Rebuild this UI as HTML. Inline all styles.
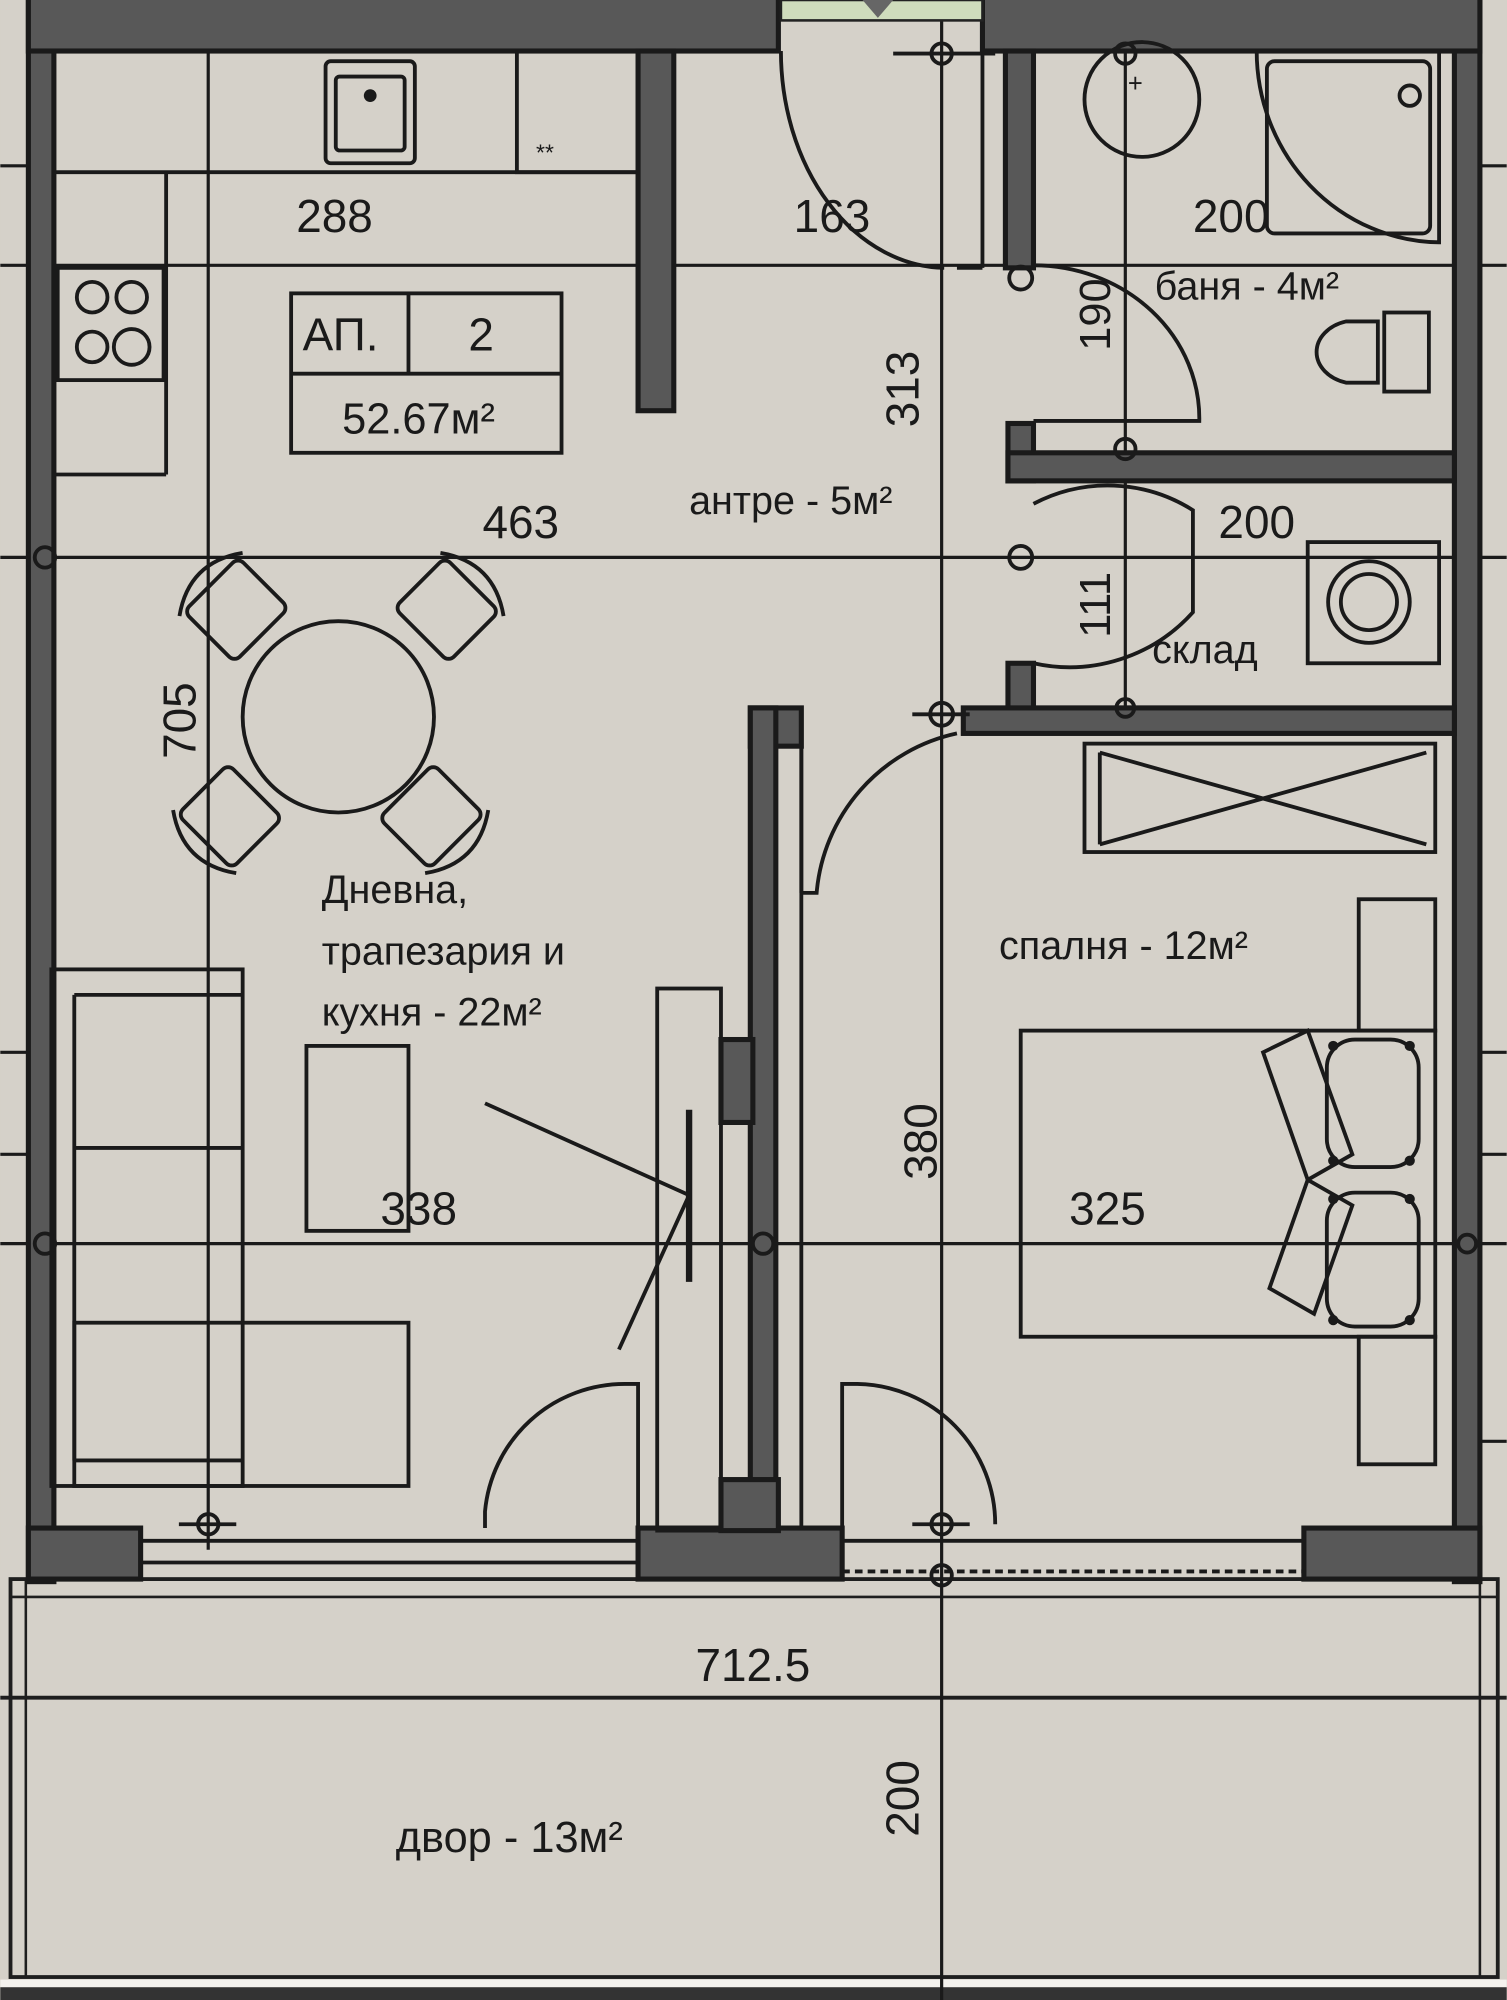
<!DOCTYPE html>
<html><head><meta charset="utf-8"><style>
html,body{margin:0;padding:0;background:#d5d1c9;}
svg{display:block}
text{font-family:"Liberation Sans",sans-serif;fill:#1a1a1a}
</style></head><body>
<svg width="1507" height="2000" viewBox="0 0 1181 1568" xmlns="http://www.w3.org/2000/svg">
<rect x="0" y="0" width="1181" height="1568" fill="#d5d1c9"/>

<!-- balcony -->
<g stroke="#1e1e1e" fill="none">
<rect x="8" y="1238" width="1166" height="312" stroke-width="3"/>
<line x1="20" y1="1238" x2="20" y2="1550" stroke-width="2"/>
<line x1="1160" y1="1238" x2="1160" y2="1550" stroke-width="2"/>
<line x1="8" y1="1252" x2="1174" y2="1252" stroke-width="2"/>
<line x1="0" y1="1331" x2="1181" y2="1331" stroke-width="3"/>
</g>
<rect x="0" y="1552" width="1181" height="6" fill="#f4f2ee"/>
<rect x="0" y="1558" width="1181" height="10" fill="#333"/>

<!-- grid lines -->
<g stroke="#1a1a1a" stroke-width="2.5" fill="none">
<line x1="0" y1="437" x2="1181" y2="437"/>
<line x1="0" y1="975" x2="1181" y2="975"/>
<line x1="0" y1="208" x2="1181" y2="208"/>
<line x1="163" y1="0" x2="163" y2="1215"/>
<line x1="738" y1="0" x2="738" y2="1568"/>
<line x1="882" y1="0" x2="882" y2="565"/>
<line x1="0" y1="130" x2="22" y2="130"/>
<line x1="0" y1="825" x2="22" y2="825"/>
<line x1="0" y1="905" x2="22" y2="905"/>
<line x1="1160" y1="130" x2="1181" y2="130"/>
<line x1="1160" y1="825" x2="1181" y2="825"/>
<line x1="1160" y1="905" x2="1181" y2="905"/>
<line x1="1160" y1="1130" x2="1181" y2="1130"/>
</g>

<!-- walls -->
<g fill="#585858" stroke="#1a1a1a" stroke-width="4">
<rect x="22" y="-5" width="20" height="1245"/>
<rect x="1140" y="-5" width="20" height="1245"/>
<rect x="22" y="-5" width="588" height="45"/>
<rect x="770" y="-5" width="390" height="45"/>
<rect x="500" y="40" width="28" height="282"/>
<rect x="788" y="40" width="22" height="170"/>
<rect x="790" y="332" width="20" height="45"/>
<rect x="790" y="355" width="350" height="22"/>
<rect x="790" y="520" width="20" height="40"/>
<rect x="755" y="555" width="385" height="20"/>
<rect x="588" y="555" width="40" height="30"/>
<rect x="588" y="555" width="20" height="630"/>
<rect x="565" y="815" width="25" height="65"/>
<rect x="22" y="1198" width="88" height="40"/>
<rect x="500" y="1198" width="160" height="40"/>
<rect x="1022" y="1198" width="138" height="40"/>
<rect x="565" y="1160" width="45" height="40"/>
</g>
<g stroke="#1a1a1a" stroke-width="3" fill="none">
<line x1="110" y1="1208" x2="500" y2="1208"/>
<line x1="110" y1="1225" x2="500" y2="1225"/>
<line x1="660" y1="1208" x2="1022" y2="1208"/>
<line x1="660" y1="1232" x2="1022" y2="1232" stroke-dasharray="6 4"/>
<line x1="628" y1="585" x2="628" y2="1198"/>
<line x1="770" y1="40" x2="770" y2="210"/>
<line x1="750" y1="210" x2="770" y2="210"/>
</g>
<!-- door opening top -->
<rect x="612" y="0" width="158" height="16" fill="#cfdcbc" stroke="#222" stroke-width="2"/>
<polygon points="676,0 700,0 688,14" fill="#666"/>

<!-- grid circles -->
<g fill="none" stroke="#1a1a1a" stroke-width="3">
<circle cx="738" cy="42" r="8"/><circle cx="882" cy="42" r="8"/>
<circle cx="800" cy="218" r="9"/><circle cx="882" cy="352" r="8"/>
<circle cx="800" cy="437" r="9"/><circle cx="35" cy="437" r="8"/>
<circle cx="738" cy="560" r="9"/><circle cx="882" cy="555" r="7"/>
<circle cx="598" cy="975" r="8"/><circle cx="35" cy="975" r="8"/>
<circle cx="163" cy="1195" r="8"/><circle cx="738" cy="1195" r="8"/>
<circle cx="738" cy="1235" r="8"/><circle cx="1150" cy="975" r="7"/>
<line x1="700" y1="42" x2="780" y2="42"/>
<line x1="140" y1="1195" x2="185" y2="1195"/>
<line x1="715" y1="1195" x2="760" y2="1195"/>
<line x1="715" y1="560" x2="760" y2="560"/>
</g>

<!-- kitchen -->
<g fill="none" stroke="#1a1a1a" stroke-width="3">
<line x1="42" y1="135" x2="500" y2="135"/>
<line x1="130" y1="135" x2="130" y2="372"/>
<line x1="42" y1="372" x2="130" y2="372"/>
<rect x="255" y="48" width="70" height="80" rx="4"/>
<rect x="263" y="60" width="54" height="58" rx="3"/>
<rect x="405" y="40" width="95" height="95"/>
<rect x="45" y="210" width="83" height="88"/>
<circle cx="72" cy="233" r="12"/><circle cx="103" cy="233" r="12"/>
<circle cx="72" cy="272" r="12"/><circle cx="103" cy="272" r="14"/>
<rect x="228" y="230" width="212" height="125"/>
<line x1="228" y1="293" x2="440" y2="293"/>
<line x1="320" y1="230" x2="320" y2="293"/>
</g>
<circle cx="290" cy="75" r="5" fill="#1a1a1a"/>
<text x="420" y="126" font-size="18">**</text>

<!-- dining -->
<g fill="none" stroke="#1a1a1a" stroke-width="3">
<circle cx="265" cy="562" r="75"/>
<g transform="rotate(-45 185 478)"><rect x="155" y="450" width="60" height="56" rx="6"/><path d="M150 450 Q185 425 220 450" /></g>
<g transform="rotate(45 350 478)"><rect x="320" y="450" width="60" height="56" rx="6"/><path d="M315 450 Q350 425 385 450" /></g>
<g transform="rotate(-135 180 640)"><rect x="150" y="612" width="60" height="56" rx="6"/><path d="M145 612 Q180 587 215 612" /></g>
<g transform="rotate(135 338 640)"><rect x="308" y="612" width="60" height="56" rx="6"/><path d="M303 612 Q338 587 373 612" /></g>
</g>

<!-- living -->
<g fill="none" stroke="#1a1a1a" stroke-width="3">
<rect x="40" y="760" width="150" height="405"/>
<line x1="58" y1="780" x2="190" y2="780"/>
<line x1="58" y1="780" x2="58" y2="1145"/>
<line x1="58" y1="900" x2="190" y2="900"/>
<rect x="58" y="1037" width="262" height="128"/>
<line x1="58" y1="1145" x2="190" y2="1145"/>
<rect x="240" y="820" width="80" height="145"/>
<rect x="515" y="775" width="50" height="425"/>
<line x1="540" y1="870" x2="540" y2="1005" stroke-width="5"/>
<line x1="380" y1="865" x2="540" y2="937"/>
<line x1="540" y1="937" x2="485" y2="1058"/>
<path d="M380 1198 L380 1185 A110 110 0 0 1 490 1085 L500 1085 L500 1198"/>
</g>

<!-- bedroom -->
<g fill="none" stroke="#1a1a1a" stroke-width="3">
<rect x="850" y="583" width="275" height="85"/>
<line x1="862" y1="590" x2="1118" y2="662"/><line x1="862" y1="662" x2="1118" y2="590"/>
<line x1="862" y1="590" x2="862" y2="662"/>
<rect x="1065" y="705" width="60" height="103"/>
<rect x="1065" y="1048" width="60" height="100"/>
<rect x="800" y="808" width="325" height="240"/>
<path d="M990 825 L1025 808 L1060 905 L1025 925 Z"/>
<path d="M995 1010 L1030 1030 L1060 945 L1025 925 Z"/>
<rect x="1040" y="815" width="72" height="100" rx="22"/>
<rect x="1040" y="935" width="72" height="105" rx="22"/>
<path d="M660 1198 L660 1085 L672 1085 A110 110 0 0 1 780 1195"/>
<path d="M628 700 L640 700 A140 140 0 0 1 750 575"/>
<line x1="628" y1="700" x2="628" y2="585"/>
</g>
<g fill="#1a1a1a"><circle cx="1045" cy="820" r="4"/><circle cx="1105" cy="820" r="4"/><circle cx="1045" cy="910" r="4"/><circle cx="1105" cy="910" r="4"/><circle cx="1045" cy="940" r="4"/><circle cx="1105" cy="940" r="4"/><circle cx="1045" cy="1035" r="4"/><circle cx="1105" cy="1035" r="4"/></g>

<!-- entrance door -->
<path d="M612 40 A130 170 0 0 0 740 210" fill="none" stroke="#1a1a1a" stroke-width="3"/>

<!-- bath -->
<g fill="none" stroke="#1a1a1a" stroke-width="3">
<circle cx="895" cy="78" r="45"/>
<path d="M985 40 L1128 40 L1128 190 A145 150 0 0 1 985 40 Z"/>
<rect x="993" y="48" width="128" height="135" rx="6"/>
<circle cx="1105" cy="75" r="8"/>
<path d="M1080 252 L1080 300 L1055 300 A32 25 0 0 1 1055 252 Z"/>
<rect x="1085" y="245" width="35" height="62"/>
<path d="M810 208 A130 120 0 0 1 940 330 L810 330"/>
<path d="M810 395 A125 125 0 0 1 935 400 L935 480 A130 130 0 0 1 810 520"/>
<rect x="1025" y="425" width="103" height="95"/>
<circle cx="1073" cy="472" r="32"/>
<circle cx="1073" cy="472" r="22"/>
</g>
<text x="884" y="72" font-size="20">+</text>

<!-- labels -->
<g font-size="36">
<text x="232" y="182">288</text>
<text x="622" y="182">163</text>
<text x="935" y="182">200</text>
<text x="378" y="422">463</text>
<text x="955" y="422">200</text>
<text x="298" y="960">338</text>
<text x="838" y="960">325</text>
<text x="545" y="1318">712.5</text>
<text x="237" y="275">АП.</text>
<text x="367" y="275">2</text>
<text x="268" y="340" font-size="34">52.67м²</text>
<text transform="translate(720 335) rotate(-90)">313</text>
<text transform="translate(153 595) rotate(-90)">705</text>
<text transform="translate(734 925) rotate(-90)">380</text>
<text transform="translate(720 1440) rotate(-90)">200</text>
<text transform="translate(870 275) rotate(-90)" font-size="34">190</text>
<text transform="translate(870 500) rotate(-90)" font-size="34">111</text>
</g>
<g font-size="31">
<text x="905" y="235">баня - 4м²</text>
<text x="540" y="403">антре - 5м²</text>
<text x="903" y="520">склад</text>
<text x="783" y="752">спалня - 12м²</text>
<text x="252" y="708">Дневна,</text>
<text x="252" y="756">трапезария и</text>
<text x="252" y="804">кухня - 22м²</text>
<text x="310" y="1452" font-size="34">двор - 13м²</text>
</g>
</svg>
</body></html>
